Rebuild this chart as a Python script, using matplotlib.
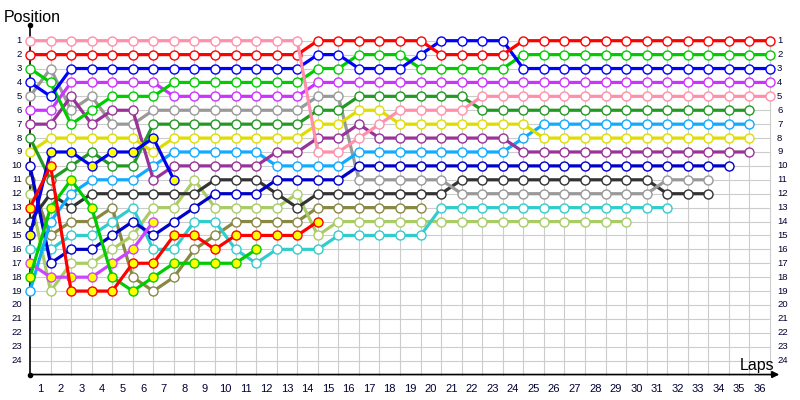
import matplotlib.pyplot as plt

plt.rcParams['font.family'] = ['Liberation Sans', 'DejaVu Sans']

# positions per lap, starting at lap 0 (grid)
pink = [1, 1, 1, 1, 1, 1, 1, 1, 1, 1, 1, 1, 1, 1, 9, 9, 8, 7, 6, 6, 6, 6,
        5, 5, 5, 5, 5, 5, 5, 5, 5, 5, 5, 5, 5, 5, 5]
red = [2, 2, 2, 2, 2, 2, 2, 2, 2, 2, 2, 2, 2, 2, 1, 1, 1, 1, 1, 1, 2, 2, 2, 2,
       1, 1, 1, 1, 1, 1, 1, 1, 1, 1, 1, 1, 1]
green = [3, 4, 7, 6, 5, 5, 5, 4, 4, 4, 4, 4, 4, 4, 3, 3, 2, 2, 2, 3, 3, 3, 3, 3,
         2, 2, 2, 2, 2, 2, 2, 2, 2, 2, 2, 2, 2]
blue = [4, 5, 3, 3, 3, 3, 3, 3, 3, 3, 3, 3, 3, 3, 2, 2, 3, 3, 3, 2, 1, 1, 1, 1,
        3, 3, 3, 3, 3, 3, 3, 3, 3, 3, 3, 3, 3]
violet = [6, 6, 4, 4, 4, 4, 4, 5, 5, 5, 5, 5, 5, 5, 4, 4, 4, 4, 4, 4, 4, 4, 4, 4,
          4, 4, 4, 4, 4, 4, 4, 4, 4, 4, 4, 4, 4]
gray = [5, 3, 6, 5, 7, 7, 6, 6, 6, 6, 6, 6, 6, 6, 5, 5, 11, 11, 11, 11, 11,
        12, 12, 12, 12, 12, 12, 12, 12, 12, 12, 11, 11, 11]
purple = [7, 7, 5, 7, 6, 6, 11, 10, 10, 10, 10, 10, 9, 9, 8, 8, 7, 8, 8, 8, 8, 8,
          8, 8, 9, 9, 9, 9, 9, 9, 9, 9, 9, 9, 9, 9]
dkgreen = [8, 11, 10, 9, 10, 10, 7, 7, 7, 7, 7, 7, 7, 7, 6, 6, 5, 5, 5, 5, 5, 5,
           6, 6, 6, 6, 6, 6, 6, 6, 6, 6, 6, 6, 6, 6]
yellow = [9, 8, 8, 8, 8, 8, 9, 8, 8, 8, 8, 8, 8, 8, 7, 7, 6, 6, 7, 7, 7, 7, 7, 7,
          7, 8, 8, 8, 8, 8, 8, 8, 8, 8, 8, 8]
ltblue = [19, 14, 12, 11, 11, 11, 10, 9, 9, 9, 9, 9, 10, 10, 10, 10, 9, 9, 9, 9,
          9, 9, 9, 9, 8, 7, 7, 7, 7, 7, 7, 7, 7, 7, 7, 7]
navy = [10, 17, 16, 16, 15, 14, 15, 14, 13, 12, 12, 12, 11, 11, 11, 11, 10, 10,
        10, 10, 10, 10, 10, 10, 10, 10, 10, 10, 10, 10, 10, 10, 10, 10, 10]
dkgray = [14, 12, 13, 12, 12, 12, 12, 12, 12, 11, 11, 11, 12, 13, 12, 12, 12, 12,
          12, 12, 12, 11, 11, 11, 11, 11, 11, 11, 11, 11, 11, 12, 12, 12]
ltgreen = [12, 19, 17, 17, 16, 15, 13, 13, 11, 13, 13, 13, 13, 12, 15, 14, 14, 14,
           14, 14, 14, 14, 14, 14, 14, 14, 14, 14, 14, 14]
olive = [11, 15, 14, 14, 13, 18, 19, 18, 16, 15, 14, 14, 14, 14, 13, 13, 13, 13,
         13, 13]
turq = [16, 16, 15, 15, 14, 13, 16, 16, 14, 14, 16, 17, 16, 16, 16, 15, 15, 15,
        15, 15, 13, 13, 13, 13, 13, 13, 13, 13, 13, 13, 13, 13]
red2 = [13, 10, 19, 19, 19, 17, 17, 15, 15, 16, 15, 15, 15, 15, 14]
blue2 = [15, 9, 9, 10, 9, 9, 8, 11]
green2 = [18, 13, 11, 13, 18, 19, 18, 17, 17, 17, 17, 16]
violet2 = [17, 18, 18, 18, 17, 16, 14]

series = [
    (olive, '#888844', 'white'),
    (ltgreen, '#aacc66', 'white'),
    (turq, '#33cccc', 'white'),
    (dkgray, '#333333', 'white'),
    (gray, '#999999', 'white'),
    (navy, '#0000cc', 'white'),
    (ltblue, '#11aaff', 'white'),
    (purple, '#993399', 'white'),
    (yellow, '#dddd00', 'white'),
    (dkgreen, '#229922', 'white'),
    (violet, '#cc33ff', 'white'),
    (green, '#00cc00', 'white'),
    (blue, '#0000ff', 'white'),
    (red, '#ff0000', 'white'),
    (pink, '#ff8fab', 'white'),
    (violet2, '#cc44ff', '#ffff00'),
    (green2, '#00cc00', '#ffff00'),
    (blue2, '#0000ee', '#ffff00'),
    (red2, '#ff0000', '#ffff00'),
]

n_laps = 36
n_pos = 24

fig = plt.figure(figsize=(8, 4), dpi=100)
ax = fig.add_axes([0, 0, 1, 1])
ax.set_axis_off()
# pixel mapping: lap 0 at x=30px, 20.556px per lap; pos 1 at y=40.7px, 13.91px per pos
ax.set_xlim(-30 / 20.556, 770 / 20.556)
ax.set_ylim(1 + 359.3 / 13.91, 1 - 40.7 / 13.91)

# grid
for p in range(1, n_pos + 1):
    ax.plot([0, n_laps], [p, p], color='#cccccc', lw=0.8, zorder=1)
for lap in range(1, n_laps + 1):
    ax.plot([lap, lap], [1, 25], color='#cccccc', lw=0.8, zorder=1)

# axes lines
ax.plot([0, 0], [25, -0.1], color='black', lw=1.2, zorder=2)
ax.plot([0], [-0.1], 'o', color='black', ms=3, zorder=2)
ax.plot([0], [25], 'o', color='black', ms=3, zorder=2)
ax.annotate('', xy=(36.45, 25), xytext=(0, 25),
            arrowprops=dict(arrowstyle='-|>', color='black', lw=1.2,
                            mutation_scale=10, shrinkA=0, shrinkB=0))

# series
for i, (pos, c, fc) in enumerate(series):
    ax.plot(range(len(pos)), pos, '-', color=c, lw=2.3, marker='o', ms=6.5,
            mfc=fc, mec=c, mew=1.0, zorder=3 + i * 0.01)

# labels
for p in range(1, n_pos + 1):
    ax.text(-0.39, p, str(p), ha='right', va='center', fontsize=6.8, color='#000033')
    ax.text(36.34, p, str(p), ha='left', va='center', fontsize=6.8, color='#000033')
for k in range(1, n_laps + 1):
    ax.text(k - 0.5, 26.04, str(k), ha='center', va='center', fontsize=8, color='#000033')

ax.text(-1.27, -0.34, 'Position', ha='left', va='baseline', fontsize=11.5)
ax.text(36.19, 24.67, 'Laps', ha='right', va='baseline', fontsize=11.5)

fig.savefig('out.png', dpi=100)
